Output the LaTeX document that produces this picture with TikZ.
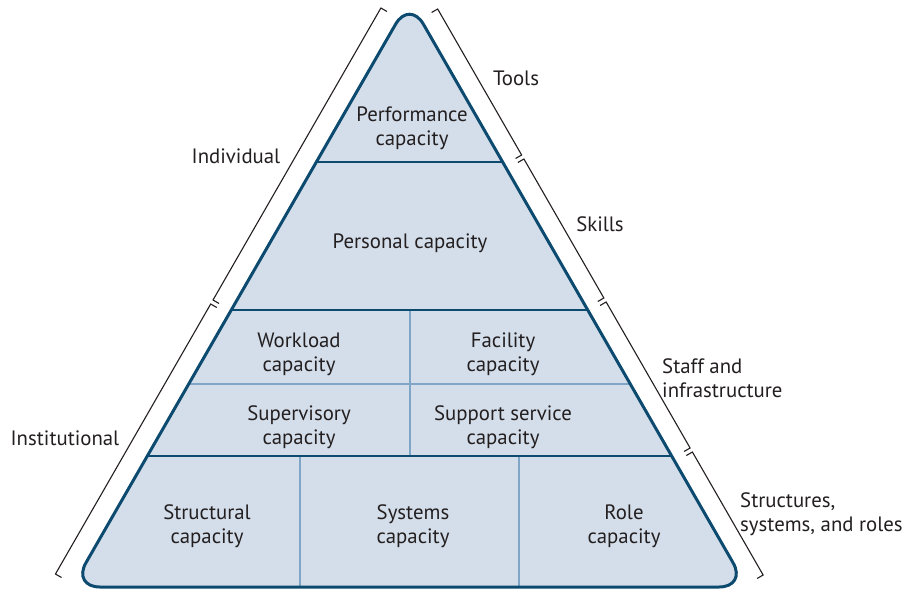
\documentclass[tikz,border=0pt]{standalone}
\usepackage{fontspec}
\setmainfont{PT Sans}
\definecolor{fillc}{HTML}{D4DEEA}
\definecolor{darkc}{HTML}{0D4A6F}
\definecolor{thinc}{HTML}{7FA5C7}
\definecolor{txtc}{HTML}{231F20}
\tikzset{
  lbl/.style={font=\fontsize{20.8}{24}\selectfont, text=txtc, align=center, inner sep=0pt},
  thick line/.style={draw=darkc, line width=2.6pt},
  thin line/.style={draw=thinc, line width=2pt},
  brk/.style={draw=txtc, line width=1.1pt, line join=miter},
}
\begin{document}
\begin{tikzpicture}[x=1pt,y=-1pt]
\useasboundingbox (0,0) rectangle (909,590);
% triangle fill
\fill[fillc, rounded corners=28pt] (409.5,0) -- (747,587) -- (72,587) -- cycle;
% thin divisions
\draw[thin line] ({409.5-0.575*384},384) -- ({409.5+0.575*384},384);
\draw[thin line] (410,310) -- (410,456);
\draw[thin line] (300,456) -- (300,587);
\draw[thin line] (519,456) -- (519,587);
% thick divisions
\draw[thick line] ({409.5-0.575*162},162) -- ({409.5+0.575*162},162);
\draw[thick line] ({409.5-0.575*310},310) -- ({409.5+0.575*310},310);
\draw[thick line] ({409.5-0.575*456},456) -- ({409.5+0.575*456},456);
% border
\draw[darkc, line width=3pt, rounded corners=28pt] (409.5,0) -- (747,587) -- (72,587) -- cycle;
% cell texts
\node[lbl] (perf) at (412,128) {Performance\\capacity};
\node[lbl] (pers) at (410,243) {Personal capacity};
\node[lbl] (work) at (299,354) {Workload\\capacity};
\node[lbl] (faci) at (503,354) {Facility\\capacity};
\node[lbl] (supv) at (299,427) {Supervisory\\capacity};
\node[lbl] (supp) at (503,427) {Support service\\capacity};
\node[lbl] (stru) at (207,526) {Structural\\capacity};
\node[lbl] (syst) at (413,526) {Systems\\capacity};
\node[lbl] (role) at (624,526) {Role\\capacity};
% side labels
\node[lbl] (tools) at (516,78) {Tools};
\node[lbl] (indiv) at (236,156) {Individual};
\node[lbl] (skills) at (600,224) {Skills};
\node[lbl, anchor=west, align=left] (staff) at (662,378) {Staff and\\infrastructure};
\node[lbl] (inst) at (65,438) {Institutional};
\node[lbl, anchor=west, align=left] (ssr) at (740,514) {Structures,\\systems, and roles};
% left brackets
\draw[brk] ({385.5-0.575*8+6.07},{8+3.49}) -- ({385.5-0.575*8},8) -- ({385.5-0.575*300},300) -- ({385.5-0.575*300+6.07},{300+3.49});
\draw[brk] ({385.5-0.575*304+6.07},{304+3.49}) -- ({385.5-0.575*304},304) -- ({385.5-0.575*574},574) -- ({385.5-0.575*574+6.07},{574+3.49});
% right brackets
\foreach \a/\b in {9/155, 159/298, 302/448, 452/575}{
  \draw[brk] ({432.5+0.575*\a-6.07},{\a+3.49}) -- ({432.5+0.575*\a},\a) -- ({432.5+0.575*\b},\b) -- ({432.5+0.575*\b-6.07},{\b+3.49});
}
\end{tikzpicture}
\end{document}
